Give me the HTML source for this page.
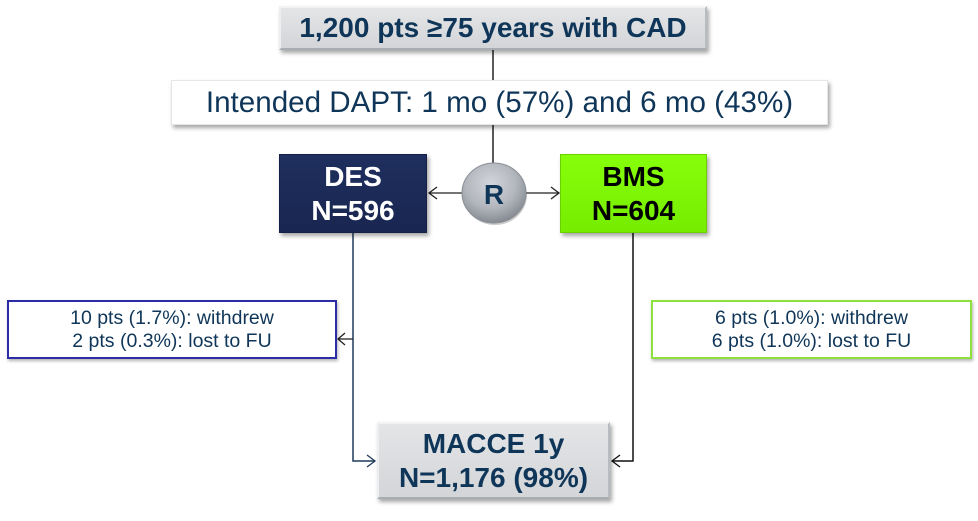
<!DOCTYPE html>
<html>
<head>
<meta charset="utf-8">
<style>
  html,body{margin:0;padding:0;background:#fff;}
  body{width:978px;height:521px;position:relative;overflow:hidden;font-family:"Liberation Sans",Arial,sans-serif;}
  .box{position:absolute;box-sizing:border-box;display:flex;align-items:center;justify-content:center;text-align:center;}
  .gray{background:linear-gradient(#e4e5e7,#d3d5d8);border-top:2px solid #f2f3f4;border-left:2px solid #eceeef;border-right:2px solid #b8bbbf;border-bottom:2px solid #a9acb0;box-shadow:2px 3px 4px rgba(0,0,0,0.35);color:#0f3658;font-weight:bold;}
  .white{background:#fff;border:1px solid #e6e6e6;box-shadow:2px 3px 4px rgba(0,0,0,0.35);color:#0f3658;}
  svg{position:absolute;left:0;top:0;}
</style>
</head>
<body>
<svg width="978" height="521" viewBox="0 0 978 521">
  <defs>
    <radialGradient id="rg" cx="45%" cy="35%" r="65%">
      <stop offset="0" stop-color="#d3d6db"/>
      <stop offset="0.6" stop-color="#b3b7bd"/>
      <stop offset="1" stop-color="#868b93"/>
    </radialGradient>
  </defs>
  <!-- top connectors -->
  <line x1="493" y1="50" x2="493" y2="80" stroke="#222" stroke-width="1.5"/>
  <line x1="493" y1="125" x2="493" y2="164" stroke="#222" stroke-width="1.5"/>
  <!-- R to DES / BMS -->
  <line x1="463" y1="193" x2="429" y2="193" stroke="#222" stroke-width="1.3"/>
  <polyline points="437,187 429,193 437,199" fill="none" stroke="#222" stroke-width="1.3"/>
  <line x1="526" y1="193" x2="559" y2="193" stroke="#222" stroke-width="1.3"/>
  <polyline points="551,187 559,193 551,199" fill="none" stroke="#222" stroke-width="1.3"/>
  <!-- DES down connector -->
  <polyline points="353,233 353,461 375,461" fill="none" stroke="#1f3b5c" stroke-width="1.5"/>
  <polyline points="367,455 375,461 367,467" fill="none" stroke="#1f3b5c" stroke-width="1.3"/>
  <line x1="353" y1="339" x2="338" y2="339" stroke="#222" stroke-width="1.3"/>
  <polyline points="345,333 338,339 345,345" fill="none" stroke="#222" stroke-width="1.3"/>
  <!-- BMS down connector -->
  <polyline points="633,233 633,461 612,461" fill="none" stroke="#111" stroke-width="1.5"/>
  <polyline points="620,455 612,461 620,467" fill="none" stroke="#111" stroke-width="1.3"/>
  <!-- circle -->
  <ellipse cx="495" cy="195" rx="32" ry="30" fill="rgba(0,0,0,0.2)"/>
  <ellipse cx="494" cy="193" rx="32" ry="30" fill="url(#rg)" stroke="#8a8f96" stroke-width="1"/>
  <text x="494" y="204" text-anchor="middle" font-family="Liberation Sans, Arial, sans-serif" font-weight="bold" font-size="28" fill="#0f3658">R</text>
</svg>

<div class="box gray" style="left:279px;top:6px;width:428px;height:44px;font-size:28px;">1,200 pts ≥75 years with CAD</div>

<div class="box white" style="left:171px;top:80px;width:657px;height:45px;font-size:29.6px;">Intended DAPT: 1 mo (57%) and 6 mo (43%)</div>

<div class="box" style="left:279px;top:154px;width:148px;height:79px;background:linear-gradient(#1f2f5e,#182650);border:1px solid #142045;box-shadow:2px 3px 4px rgba(0,0,0,0.35);color:#fff;font-weight:bold;font-size:28px;line-height:34px;">DES<br>N=596</div>

<div class="box" style="left:560px;top:154px;width:147px;height:79px;background:linear-gradient(#86ff0a,#76ec00);border:1px solid #6ccf00;box-shadow:2px 3px 4px rgba(0,0,0,0.35);color:#000;font-weight:bold;font-size:28px;line-height:34px;">BMS<br>N=604</div>

<div class="box" style="left:7px;top:300px;width:330px;height:59px;border:2px solid #2c2ca6;background:#fff;box-shadow:1px 2px 3px rgba(0,0,0,0.3);color:#0f3658;font-size:19.5px;line-height:23px;">10 pts (1.7%): withdrew<br>2 pts (0.3%): lost to FU</div>

<div class="box" style="left:651px;top:300px;width:321px;height:59px;border:2px solid #8ee03c;background:#fff;box-shadow:1px 2px 3px rgba(0,0,0,0.3);color:#0f3658;font-size:19.5px;line-height:23px;">6 pts (1.0%): withdrew<br>6 pts (1.0%): lost to FU</div>

<div class="box gray" style="left:377px;top:422px;width:233px;height:77px;font-size:28px;line-height:34px;">MACCE 1y<br>N=1,176 (98%)</div>
</body>
</html>
